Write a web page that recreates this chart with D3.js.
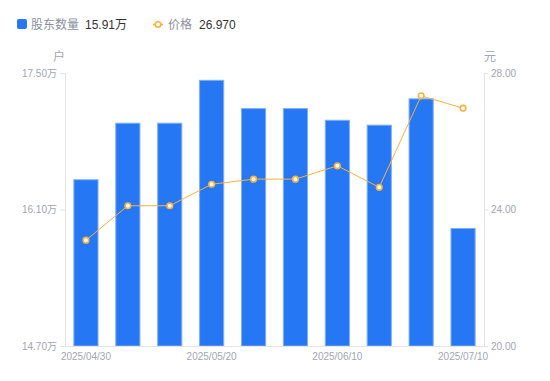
<!DOCTYPE html>
<html><head><meta charset="utf-8">
<script src="https://cdn.jsdelivr.net/npm/d3@7"></script>
<style>
body{margin:0;background:#fff;}
text{font-family:"Liberation Sans","Noto Sans CJK SC",Arial,sans-serif;}
</style></head>
<body><svg id="c" width="550" height="381"></svg>
<script>
const dates = ["2025/04/30","2025/05/09","2025/05/15","2025/05/20","2025/05/30","2025/06/06","2025/06/10","2025/06/20","2025/06/30","2025/07/10"];
const holders = [16.41, 16.99, 16.99, 17.43, 17.14, 17.14, 17.02, 16.97, 17.24, 15.91];
const prices = [23.10, 24.11, 24.11, 24.74, 24.89, 24.89, 25.28, 24.65, 27.33, 26.97];
const leftTicks = [14.70, 16.10, 17.50];
const rightTicks = [20, 24, 28];
const xTickLabels = ["2025/04/30","2025/05/20","2025/06/10","2025/07/10"];

const svg = d3.select("#c");
const L = 65, R = 484, T = 73, B = 346;
const axisColor = "#E3E4E9", labelColor = "#A2A5B2";
const barColor = "#2677F4", barStroke = "#7EADF9", lineColor = "#F9B23C";
const FONT = "'Liberation Sans','Noto Sans CJK SC',Arial,sans-serif";

const x = d3.scaleBand().domain(dates).range([L, R]).paddingInner(0.4).paddingOuter(0.2);
const yL = d3.scaleLinear().domain([14.70, 17.50]).range([B, T]);
const yR = d3.scaleLinear().domain([20, 28]).range([B, T]);

// bars
svg.append("g").selectAll("rect").data(holders).join("rect")
  .attr("x", (d,i)=>x(dates[i])+0.5)
  .attr("width", x.bandwidth()-1)
  .attr("y", d=>yL(d)+0.5)
  .attr("height", d=>B - yL(d)-0.5)
  .attr("fill", barColor).attr("stroke", barStroke).attr("stroke-width", 1);

// axes
const gL = svg.append("g").attr("transform", `translate(${L},0)`)
  .call(d3.axisLeft(yL).tickValues(leftTicks).tickFormat(d=>d.toFixed(2)+"万").tickSize(5).tickPadding(3));
const gR = svg.append("g").attr("transform", `translate(${R},0)`)
  .call(d3.axisRight(yR).tickValues(rightTicks).tickFormat(d=>d.toFixed(2)).tickSize(4).tickPadding(3));
const gB = svg.append("g").attr("transform", `translate(0,${B})`)
  .call(d3.axisBottom(x).tickValues(xTickLabels).tickSize(0).tickPadding(7));
[gL,gR,gB].forEach(g=>{
  g.selectAll("path").attr("stroke", axisColor);
  g.selectAll("line").attr("stroke", axisColor);
  g.selectAll("text").attr("fill", labelColor).attr("font-size", 10).attr("font-family", FONT);
});
gL.select(".domain").attr("d", `M0.5,${T}V${B}`);
gR.select(".domain").attr("d", `M0.5,${T}V${B}`);
gB.select(".domain").attr("d", `M${L},0.5H${R}`);

// units
svg.append("text").attr("x", 59).attr("y", 61).attr("text-anchor","middle")
  .attr("font-size", 12).attr("fill", labelColor).text("户");
svg.append("text").attr("x", 490).attr("y", 61).attr("text-anchor","middle")
  .attr("font-size", 12).attr("fill", labelColor).text("元");

// line
const cx = (i)=>x(dates[i]) + x.bandwidth()/2;
svg.append("path").datum(prices)
  .attr("d", d3.line().x((d,i)=>cx(i)).y(d=>yR(d)))
  .attr("fill","none").attr("stroke", lineColor).attr("stroke-width", 1);
svg.append("g").selectAll("circle").data(prices).join("circle")
  .attr("cx",(d,i)=>cx(i)).attr("cy", d=>yR(d)).attr("r", 2.8)
  .attr("fill","#fff").attr("stroke", lineColor).attr("stroke-width", 1.6);

// legend
const lg = svg.append("g");
lg.append("rect").attr("x",17).attr("y",19).attr("width",10).attr("height",10).attr("rx",2).attr("fill", barColor);
lg.append("text").attr("x",31).attr("y",28.5).attr("font-size",12).attr("fill","#8C909C").text("股东数量");
lg.append("text").attr("x",85).attr("y",28.5).attr("font-size",12).attr("fill","#333").text("15.91万");
lg.append("line").attr("x1",153).attr("x2",163).attr("y1",24.5).attr("y2",24.5).attr("stroke",lineColor).attr("stroke-width",1.5);
lg.append("circle").attr("cx",158).attr("cy",24.5).attr("r",2.8).attr("fill","#fff").attr("stroke",lineColor).attr("stroke-width",1.6);
lg.append("text").attr("x",168).attr("y",28.5).attr("font-size",12).attr("fill","#8C909C").text("价格");
lg.append("text").attr("x",199).attr("y",28.5).attr("font-size",12).attr("fill","#333").text("26.970");
</script></body></html>
